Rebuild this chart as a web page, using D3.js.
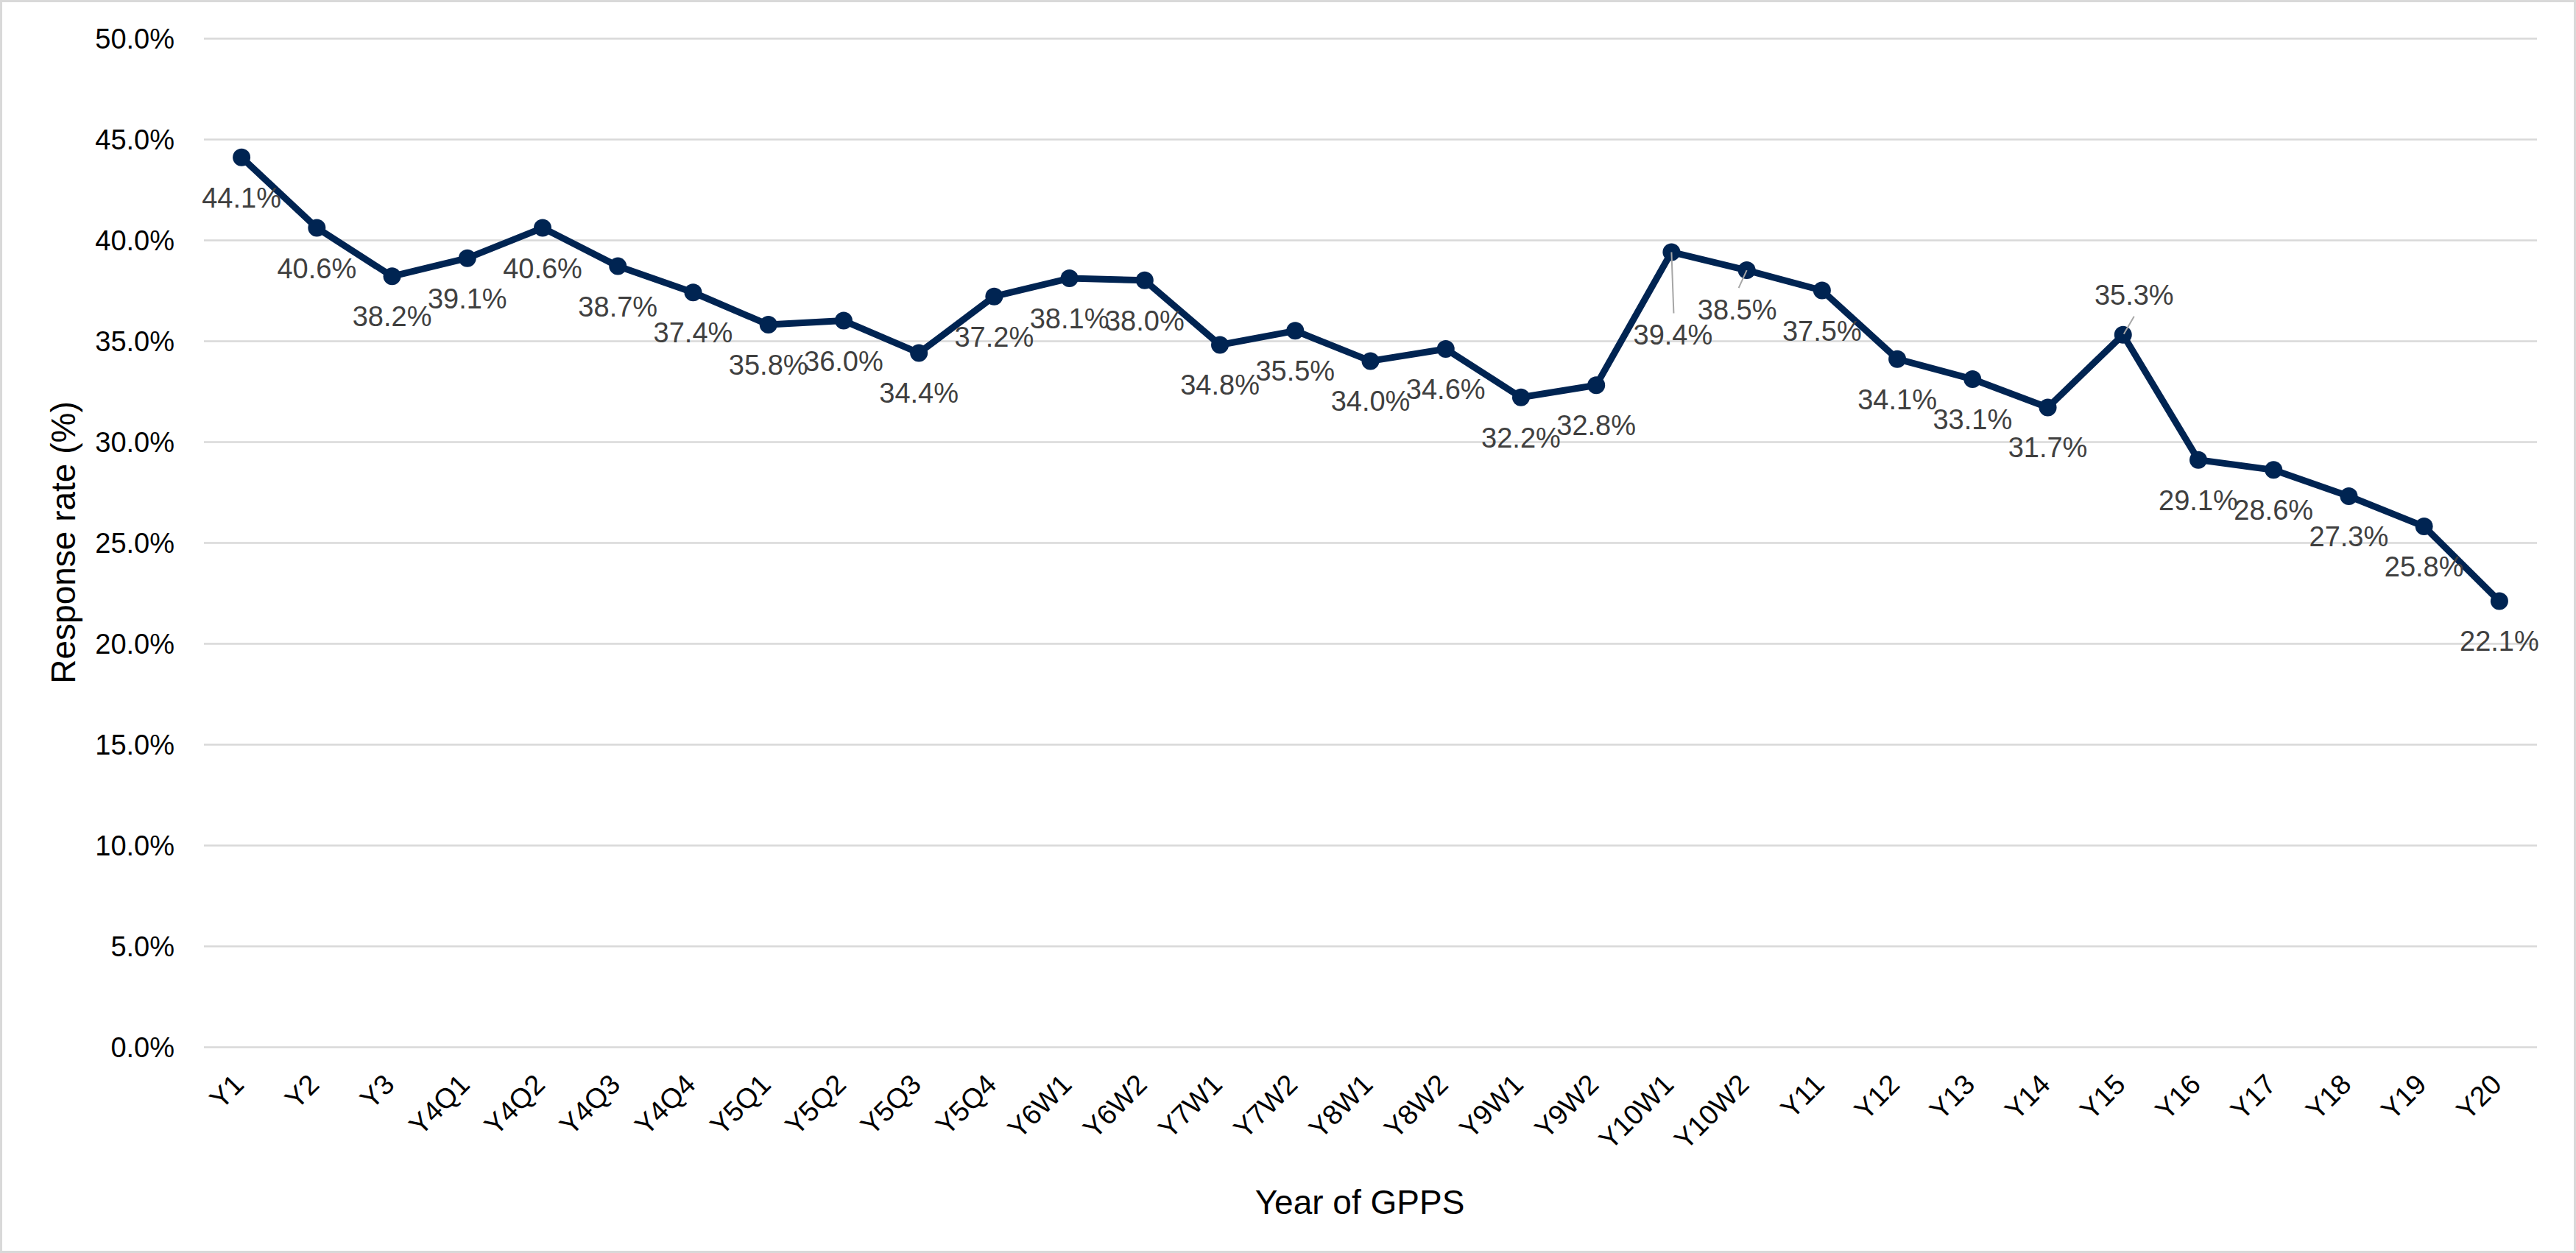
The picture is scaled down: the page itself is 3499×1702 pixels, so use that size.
<!DOCTYPE html>
<html>
<head>
<meta charset="utf-8">
<script src="https://cdn.jsdelivr.net/npm/d3@7"></script>
<style>
  body { margin: 0; background: #fff; }
  svg { display: block; font-family: "Liberation Sans", Arial, sans-serif; }
</style>
</head>
<body>
<svg id="chart"></svg>
<script>
// survey waves and response rate (%)
const waves = ["Y1", "Y2", "Y3", "Y4Q1", "Y4Q2", "Y4Q3", "Y4Q4", "Y5Q1", "Y5Q2", "Y5Q3",
               "Y5Q4", "Y6W1", "Y6W2", "Y7W1", "Y7W2", "Y8W1", "Y8W2", "Y9W1", "Y9W2",
               "Y10W1", "Y10W2", "Y11", "Y12", "Y13", "Y14", "Y15", "Y16", "Y17", "Y18",
               "Y19", "Y20"];
const responseRate = [44.1, 40.6, 38.2, 39.1, 40.6, 38.7, 37.4, 35.8, 36.0, 34.4,
                      37.2, 38.1, 38.0, 34.8, 35.5, 34.0, 34.6, 32.2, 32.8,
                      39.4, 38.5, 37.5, 34.1, 33.1, 31.7, 35.3, 29.1, 28.6, 27.3,
                      25.8, 22.1];
const yTicks = [0, 5, 10, 15, 20, 25, 30, 35, 40, 45, 50];

const WIDTH = 3499;
const HEIGHT = 1702;
const margin = {top: 52, right: 53, bottom: 280, left: 277};

// labels Excel moved off the default spot (with leader lines)
const labelNudge = {
  "Y10W1": {dx: 2, dy: 126, lead: [0, 0, 3, 83]},
  "Y10W2": {dx: -13, dy: 67, lead: [0, 0, -11, 24]},
  "Y15":   {dx: 15, dy: -41, lead: [1, -1, 15, -25]}
};

const data = waves.map((w, i) => ({wave: w, value: responseRate[i]}));

const svg = d3.select("#chart")
    .attr("width", WIDTH)
    .attr("height", HEIGHT);

svg.append("rect")
    .attr("x", 1.5).attr("y", 1.5)
    .attr("width", WIDTH - 3).attr("height", HEIGHT - 3)
    .attr("fill", "#fff")
    .attr("stroke", "#d9d9d9")
    .attr("stroke-width", 3);

const x = d3.scaleBand()
    .domain(waves)
    .range([margin.left, WIDTH - margin.right]);

const y = d3.scaleLinear()
    .domain([0, 50])
    .range([HEIGHT - margin.bottom, margin.top]);

const cx = d => x(d.wave) + x.bandwidth() / 2;

// gridlines + y labels
const yAxis = d3.axisLeft(y)
    .tickValues(yTicks)
    .tickSize(-(WIDTH - margin.left - margin.right))
    .tickPadding(40)
    .tickFormat(d => d.toFixed(1) + "%");

svg.append("g")
    .attr("transform", `translate(${margin.left},0)`)
    .call(yAxis)
    .call(g => g.select(".domain").remove())
    .call(g => g.selectAll(".tick line").attr("stroke", "#d9d9d9").attr("stroke-width", 2.7))
    .call(g => g.selectAll(".tick text")
          .attr("font-size", 38).attr("fill", "#000").attr("dy", "0.35em"));

// x labels, rotated
const xAxis = d3.axisBottom(x).tickSize(0).tickPadding(0);
svg.append("g")
    .attr("transform", `translate(0,${y(0)})`)
    .call(xAxis)
    .call(g => g.select(".domain").remove())
    .call(g => g.selectAll(".tick text")
          .attr("font-size", 38)
          .attr("fill", "#000")
          .attr("text-anchor", "end")
          .attr("y", 0).attr("dy", "0.35em")
          .attr("transform", "translate(-4,44) rotate(-45)"));

// line
const line = d3.line()
    .x(cx)
    .y(d => y(d.value));

svg.append("path")
    .datum(data)
    .attr("fill", "none")
    .attr("stroke", "#002452")
    .attr("stroke-width", 9)
    .attr("stroke-linejoin", "round")
    .attr("d", line);

svg.append("g")
    .selectAll("circle")
    .data(data)
    .join("circle")
    .attr("cx", cx)
    .attr("cy", d => y(d.value))
    .attr("r", 12)
    .attr("fill", "#002452");

// leader lines
svg.append("g")
    .selectAll("line")
    .data(data.filter(d => labelNudge[d.wave]))
    .join("line")
    .attr("x1", d => cx(d) + labelNudge[d.wave].lead[0])
    .attr("y1", d => y(d.value) + labelNudge[d.wave].lead[1])
    .attr("x2", d => cx(d) + labelNudge[d.wave].lead[2])
    .attr("y2", d => y(d.value) + labelNudge[d.wave].lead[3])
    .attr("stroke", "#a6a6a6")
    .attr("stroke-width", 2);

// data labels
svg.append("g")
    .attr("font-size", 38)
    .attr("fill", "#404040")
    .attr("text-anchor", "middle")
    .selectAll("text")
    .data(data)
    .join("text")
    .attr("x", d => cx(d) + (labelNudge[d.wave] ? labelNudge[d.wave].dx : 0))
    .attr("y", d => y(d.value) + (labelNudge[d.wave] ? labelNudge[d.wave].dy : 68))
    .text(d => d.value.toFixed(1) + "%");

// axis titles
svg.append("text")
    .attr("x", 1847)
    .attr("y", 1649)
    .attr("text-anchor", "middle")
    .attr("font-size", 46)
    .attr("fill", "#000")
    .text("Year of GPPS");

svg.append("text")
    .attr("transform", `translate(102,${(y(0) + y(50)) / 2}) rotate(-90)`)
    .attr("text-anchor", "middle")
    .attr("font-size", 46)
    .attr("fill", "#000")
    .text("Response rate (%)");
</script>
</body>
</html>
